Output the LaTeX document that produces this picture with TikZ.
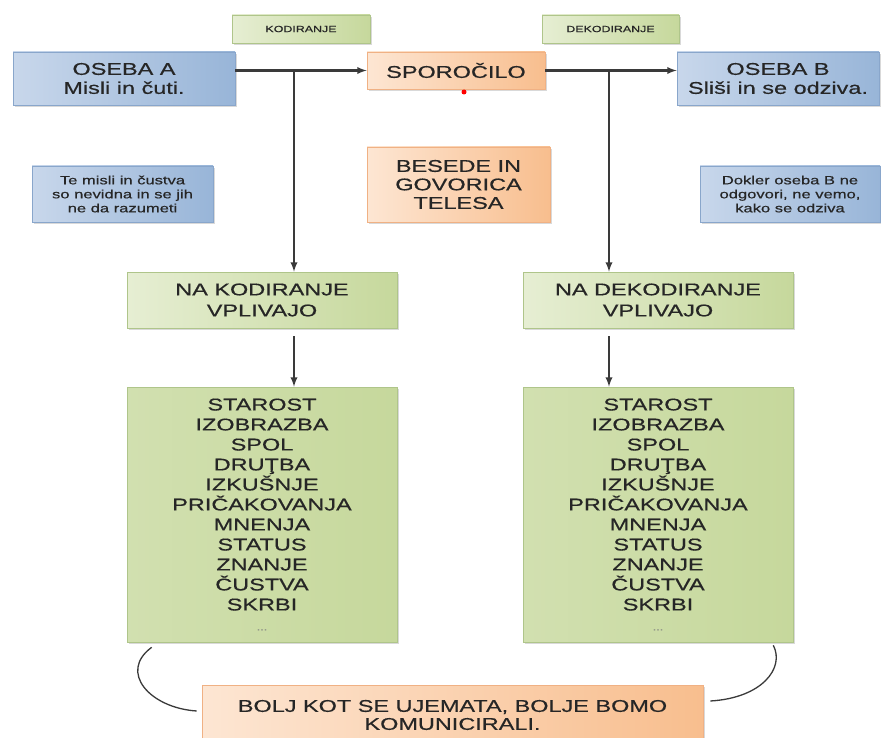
\documentclass[tikz,border=0pt]{standalone}
\usepackage{fontspec}
\setmainfont{Liberation Sans}[FakeStretch=1.38,FakeBold=0.5]
\usetikzlibrary{shadows}
\definecolor{txt}{HTML}{262626}
\definecolor{linegray}{HTML}{3A3A3A}
\definecolor{blueL}{HTML}{C8D7EB}
\definecolor{blueR}{HTML}{98B5D8}
\definecolor{blueD}{HTML}{89A6CB}
\definecolor{orangeL}{HTML}{FDE6D3}
\definecolor{orangeR}{HTML}{F8BE8E}
\definecolor{orangeD}{HTML}{F0B184}
\definecolor{greenL}{HTML}{E6EED3}
\definecolor{greenR}{HTML}{C6D89C}
\definecolor{greenD}{HTML}{AFC58A}
\begin{document}
\begin{tikzpicture}[x=1pt,y=-1pt,
  box/.style={draw,line width=0.6pt,inner sep=0pt,align=center,text=txt,
    font=\fontsize{17}{19}\selectfont,
    drop shadow={shadow xshift=2pt,shadow yshift=-2pt,opacity=0.3}},
  bluebox/.style={box,draw=blueD,left color=blueL,right color=blueR},
  orangebox/.style={box,draw=orangeD,left color=orangeL,right color=orangeR},
  greenbox/.style={box,draw=greenD,left color=greenL,right color=greenR},
  listbox/.style={box,draw=greenD,left color=greenR!80,middle color=greenL!60,right color=greenR,
    font=\fontsize{17}{20}\selectfont},
  note/.style={font=\fontsize{12}{14}\selectfont},
  tag/.style={font=\fontsize{9}{10}\selectfont},
  arrow/.style={-latex,draw=linegray,line width=2.2pt}]
\useasboundingbox (0,0) rectangle (881,738);
% top row
\node[greenbox,tag,minimum width=138pt,minimum height=28pt] (kod) at (301,29) {KODIRANJE};
\node[greenbox,tag,minimum width=137pt,minimum height=28pt] (dekod) at (610.5,29) {DEKODIRANJE};
\node[bluebox,minimum width=222pt,minimum height=53pt] (osebaA) at (124,78.5) {OSEBA A\\Misli in čuti.};
\node[orangebox,minimum width=178pt,minimum height=37pt] (spor) at (456,70.5) {SPOROČILO};
\node[circle,fill=red,inner sep=0pt,minimum size=5pt] (dot) at (464,92) {};
\node[bluebox,minimum width=202pt,minimum height=53pt] (osebaB) at (778,78.5) {OSEBA B\\Sliši in se odziva.};
% notes
\node[bluebox,note,minimum width=181pt,minimum height=56pt] (misli) at (122.5,194) {Te misli in čustva\\so nevidna in se jih\\ne da razumeti};
\node[orangebox,minimum width=183pt,minimum height=75pt,font=\fontsize{17}{18.5}\selectfont] (besede) at (458.5,184.5) {BESEDE IN\\GOVORICA\\TELESA};
\node[bluebox,note,minimum width=180pt,minimum height=56pt] (dokler) at (790,194) {Dokler oseba B ne\\odgovori, ne vemo,\\kako se odziva};
% influences
\node[greenbox,minimum width=270pt,minimum height=56pt,font=\fontsize{17}{21}\selectfont] (naK) at (262,300) {NA KODIRANJE\\VPLIVAJO};
\node[greenbox,minimum width=270pt,minimum height=56pt,font=\fontsize{17}{21}\selectfont] (naD) at (658,300) {NA DEKODIRANJE\\VPLIVAJO};
\node[listbox,minimum width=270pt,minimum height=255pt] (listK) at (262,514.5) {STAROST\\IZOBRAZBA\\SPOL\\DRUŢBA\\IZKUŠNJE\\PRIČAKOVANJA\\MNENJA\\STATUS\\ZNANJE\\ČUSTVA\\SKRBI\\{\color{gray}\fontsize{9}{9}\selectfont ...}};
\node[listbox,minimum width=270pt,minimum height=255pt] (listD) at (658,514.5) {STAROST\\IZOBRAZBA\\SPOL\\DRUŢBA\\IZKUŠNJE\\PRIČAKOVANJA\\MNENJA\\STATUS\\ZNANJE\\ČUSTVA\\SKRBI\\{\color{gray}\fontsize{9}{9}\selectfont ...}};
\node[orangebox,minimum width=501pt,minimum height=60pt,font=\fontsize{17}{18}\selectfont] (bottom) at (452.5,715) {BOLJ KOT SE UJEMATA, BOLJE BOMO\\KOMUNICIRALI.};
% connectors
\coordinate (kA) at (294,0);
\coordinate (kB) at (609,0);
\draw[arrow] (osebaA.east |- spor.west) -- (spor.west);
\draw[arrow] (spor.east) -- (osebaB.west |- spor.east);
\draw[arrow] (kA |- spor.west) -- (kA |- naK.north);
\draw[arrow] (kB |- spor.east) -- (kB |- naD.north);
\draw[arrow,shorten <=8pt] (kA |- naK.south) -- (kA |- listK.north);
\draw[arrow,shorten <=8pt] (kB |- naD.south) -- (kB |- listD.north);
\draw[linegray,line width=1.3pt] ([xshift=25pt,yshift=-5pt]listK.south west) .. controls (118,672) and (150,708) .. ([xshift=-5pt,yshift=4pt]bottom.west);
\draw[linegray,line width=1.3pt] ([xshift=-20pt,yshift=-3pt]listD.south east) .. controls (785,668) and (762,698) .. ([xshift=7pt,yshift=14pt]bottom.east);
\end{tikzpicture}
\end{document}
